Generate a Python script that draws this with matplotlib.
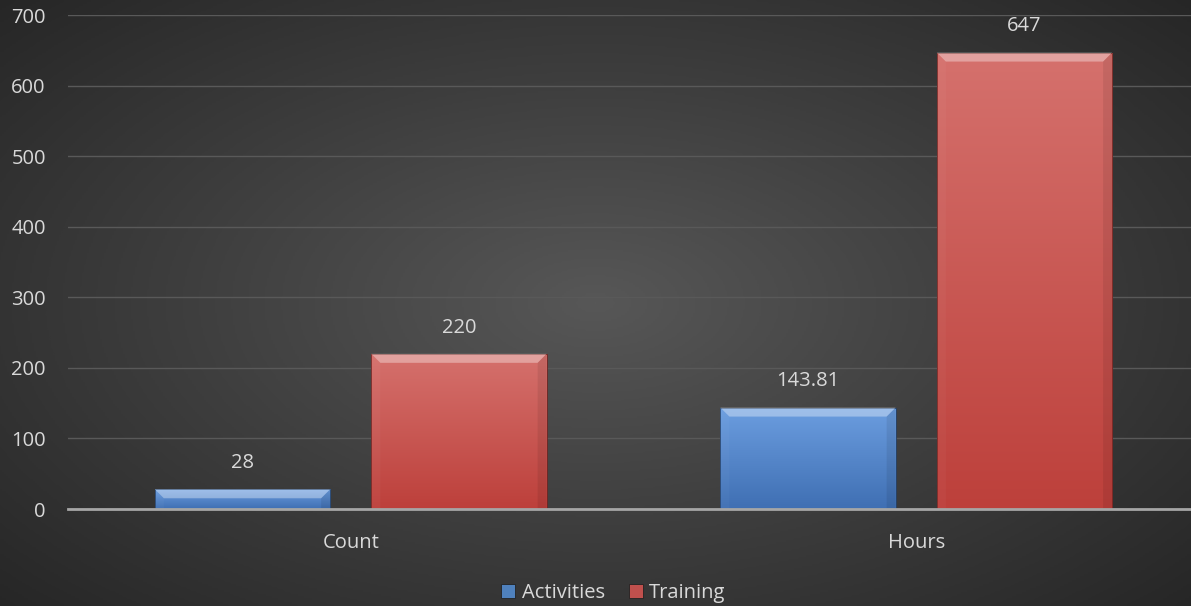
import numpy as np
import matplotlib
matplotlib.use("Agg")
from matplotlib import pyplot as plt
from matplotlib.patches import Polygon
from matplotlib.colors import LinearSegmentedColormap, to_rgb

categories = ["Count", "Hours"]
activities = [28, 143.81]
training = [220, 647]
activities_labels = ["28", "143.81"]
training_labels = ["220", "647"]

plt.rcParams['font.family'] = ['Open Sans', 'DejaVu Sans']
FS = 14.5

fig = plt.figure(figsize=(11.91, 6.06), dpi=100)

# фон: радиальный градиент, светлее в центре
bg = fig.add_axes([0, 0, 1, 1], zorder=-10)
yy, xx = np.mgrid[-1:1:300j, -1:1:600j]
r = np.sqrt((xx * 0.9) ** 2 + (yy * 0.85) ** 2)
bg_cmap = LinearSegmentedColormap.from_list("bg", ["#575757", "#3e3e3e", "#262626"])
bg.imshow(r, cmap=bg_cmap, aspect="auto", extent=[0, 1, 0, 1], vmin=0, vmax=1.25)
bg.axis("off")

AX_L, AX_B, AX_W, AX_H = 0.0571, 0.160, 0.9496, 0.815
ax = fig.add_axes([AX_L, AX_B, AX_W, AX_H])
ax.patch.set_alpha(0)

x = np.arange(len(categories))
w = 0.31
off = 0.1914

b1 = ax.bar(x - off, activities, w, color="#4f81bd", label="Activities", zorder=3)
b2 = ax.bar(x + off, training, w, color="#c0504d", label="Training", zorder=3)

ax.set_xlim(-0.5, 1.5)
ax.set_ylim(0, 700)
ax.set_yticks(range(0, 701, 100))
ax.set_xticks(x)
ax.set_xticklabels(categories)
ax.tick_params(colors="#d9d9d9", labelsize=FS, length=0)
ax.tick_params(axis="y", pad=16)
ax.tick_params(axis="x", pad=17)
ax.grid(axis="y", color="#595959", linewidth=1, zorder=0)
for s in ["top", "right", "left"]:
    ax.spines[s].set_visible(False)
ax.spines["bottom"].set_color("#a6a6a6")
ax.spines["bottom"].set_linewidth(2)
ax.spines["bottom"].set_zorder(5)

# пересчет пикселей в единицы данных
px_x = 2.0 / (AX_W * 1191)
px_y = 700.0 / (AX_H * 606)


def shade(bars, top_col, bot_col):
    cmap = LinearSegmentedColormap.from_list("g", [bot_col, top_col])
    for p in bars:
        x0, y0 = p.get_x(), p.get_y()
        bw, bh = p.get_width(), p.get_height()
        p.set_facecolor("none")
        p.set_edgecolor(tuple(np.array(to_rgb(bot_col)) * 0.6))
        p.set_linewidth(0.6)
        grad = np.linspace(0, 1, 256).reshape(-1, 1)
        im = ax.imshow(grad, cmap=cmap, origin="lower", aspect="auto",
                       extent=[x0, x0 + bw, y0, y0 + bh], zorder=2.5)
        im.set_clip_path(p)
        dx, dy = 9 * px_x, 9 * px_y
        dy = min(dy, bh / 2)
        dx = min(dx, dy / px_y * px_x)
        top = [(x0, y0 + bh), (x0 + bw, y0 + bh), (x0 + bw - dx, y0 + bh - dy), (x0 + dx, y0 + bh - dy)]
        left = [(x0, y0), (x0, y0 + bh), (x0 + dx, y0 + bh - dy), (x0 + dx, y0)]
        right = [(x0 + bw, y0), (x0 + bw, y0 + bh), (x0 + bw - dx, y0 + bh - dy), (x0 + bw - dx, y0)]
        ax.add_patch(Polygon(top, closed=True, facecolor="white", alpha=0.35, lw=0, zorder=3.5))
        ax.add_patch(Polygon(left, closed=True, facecolor="white", alpha=0.03, lw=0, zorder=3.5))
        ax.add_patch(Polygon(right, closed=True, facecolor="black", alpha=0.08, lw=0, zorder=3.5))


shade(b1, "#6c9ee0", "#3f6fb3")
shade(b2, "#d5716d", "#bd403b")
ax.set_xlim(-0.5, 1.5)
ax.set_ylim(0, 700)

for bars, labels in [(b1, activities_labels), (b2, training_labels)]:
    for p, lab in zip(bars, labels):
        ax.text(p.get_x() + p.get_width() / 2, p.get_height() + 23, lab,
                ha="center", va="bottom", color="#d9d9d9", fontsize=FS, zorder=6)

leg = fig.legend(handles=[b1[0], b2[0]], labels=["Activities", "Training"],
                 loc="center", bbox_to_anchor=(0.515, 0.022), ncol=2, frameon=False,
                 fontsize=FS, handlelength=0.7, handleheight=0.7, handletextpad=0.3,
                 columnspacing=1.2)
for t in leg.get_texts():
    t.set_color("#d9d9d9")
for h, c in zip(leg.legend_handles, ["#4f81bd", "#c0504d"]):
    h.set_facecolor(c)
    h.set_edgecolor("#222222")

fig.savefig("out.png", dpi=100)
